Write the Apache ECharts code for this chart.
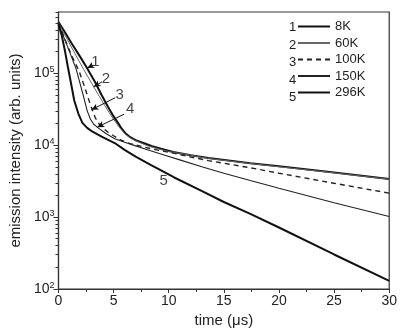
<!DOCTYPE html>
<html><head><meta charset="utf-8">
<script src="https://cdn.jsdelivr.net/npm/echarts@6/dist/echarts.min.js"></script>
<style>html,body{margin:0;padding:0;background:#fff}#c{width:400px;height:334px}</style>
</head><body><div id="c"></div>
<script>
// ---- data (time in µs, intensity in arb. units) ----
const seriesNames = ['8K', '60K', '100K', '150K', '296K'];
const seriesNums = ['1', '2', '3', '4', '5'];

const t8K   = [0, 0.6, 1.3, 2.0, 2.6, 3.3, 3.9, 4.5, 5.0, 5.4, 5.7, 6.1, 6.5, 7.0, 7.7, 8.5, 9.3, 10.4, 12, 13.6, 17.4, 20, 25, 30];
const v8K   = [516000, 367000, 245000, 166000, 117000, 75900, 50100, 33900, 25100, 20400, 17200, 14500, 12900, 11700, 10700, 9660, 8910, 8040, 7240, 6610, 5620, 5070, 4170, 3390];

const t60K  = [0, 0.8, 1.5, 2.3, 3.2, 3.7, 4.2, 4.6, 5.0, 5.5, 6.0, 6.5, 7.0, 8.0, 9.0, 10, 12, 13.6, 17.4, 20, 25, 30];
const v60K  = [501000, 295000, 186000, 112000, 64600, 47900, 35500, 28200, 22900, 17800, 14500, 12600, 11500, 9890, 8910, 8130, 7240, 6530, 5560, 5010, 4120, 3350];

const t100K = [0, 0.85, 1.3, 1.87, 2.3, 2.6, 2.9, 3.34, 3.7, 4.05, 4.5, 5.0, 5.7, 6.5, 7.7, 9, 10.4, 12, 13.6, 17.4, 20, 25, 30];
const v100K = [501000, 234000, 162000, 107000, 69200, 50100, 36300, 24000, 19500, 17200, 15100, 13500, 11700, 10500, 9460, 8510, 7760, 6840, 6100, 4840, 4070, 2950, 2150];

const t150K = [0, 0.8, 1.6, 2.2, 2.6, 2.9, 3.2, 3.6, 4.3, 5.1, 6.0, 7.0, 8.0, 9.5, 11, 13.0, 15, 17.4, 20, 25, 30];
const v150K = [479000, 240000, 115000, 52500, 30200, 22900, 19500, 17400, 14500, 12300, 11000, 9770, 8710, 7330, 6240, 5010, 4070, 3220, 2510, 1580, 1020];

const t296K = [0, 0.3, 0.6, 0.85, 1.15, 1.43, 1.8, 2.17, 2.6, 3.05, 4.0, 5.1, 6.0, 7.0, 8.36, 10.5, 12.75, 15, 17.4, 20, 25, 30];
const v296K = [479000, 331000, 200000, 123000, 70800, 41700, 27500, 20400, 17400, 15500, 12900, 10700, 8610, 6920, 5320, 3550, 2400, 1620, 1110, 716, 302, 130];

const xTicks = [0, 5, 10, 15, 20, 25, 30];
const yMajorTicks = [100, 1000, 10000, 100000];
const yMinorTicks = [200,300,400,500,600,700,800,900, 2000,3000,4000,5000,6000,7000,8000,9000,
  20000,30000,40000,50000,60000,70000,80000,90000, 200000,300000,400000,500000,600000,700000];

// curve labels (text position in data space) and leader lines (from curve point to label)
const labelT = [3.35, 4.3, 5.55, 6.5, 9.55];
const labelV = [144000, 83000, 50000, 31600, 3160];
const leaderFromT = [2.61, 3.19, 2.99, 3.52];
const leaderFromV = [118000, 64600, 31000, 17800];
const leaderToT   = [3.15, 3.95, 5.15, 5.95];
const leaderToV   = [130000, 75900, 45700, 26900];

// ---- chart ----
const timeArr = [t8K, t60K, t100K, t150K, t296K];
const valArr = [v8K, v60K, v100K, v150K, v296K];
const styles = [
  {width: 2.0, color: '#111', type: 'solid'},
  {width: 1.0, color: '#666', type: 'solid'},
  {width: 1.4, color: '#222', type: [5, 4]},
  {width: 1.1, color: '#222', type: 'solid'},
  {width: 2.0, color: '#111', type: 'solid'}
];
const FONT = 'Liberation Sans, Arial, sans-serif';

const series = seriesNames.map((n, i) => ({
  name: n, type: 'line', symbol: 'none', smooth: false,
  lineStyle: styles[i], itemStyle: {color: styles[i].color},
  data: timeArr[i].map((t, k) => [t, valArr[i][k]]),
  z: 3
}));

series.push({
  name: 'leaders', type: 'line', data: [], silent: true,
  markLine: {
    silent: true, symbol: ['arrow', 'none'], symbolSize: [5, 7],
    label: {show: false},
    lineStyle: {color: '#111', width: 1, type: 'solid'},
    data: leaderFromT.map((t, i) => [
      {coord: [t, leaderFromV[i]]}, {coord: [leaderToT[i], leaderToV[i]]}
    ])
  }
});
series.push({
  name: 'labels', type: 'scatter', symbolSize: 0, silent: true,
  data: labelT.map((t, i) => ({value: [t, labelV[i]], name: seriesNums[i]})),
  label: {show: true, position: 'inside', formatter: p => p.name,
    fontFamily: FONT, fontSize: 15, color: '#111'}
});

const chart = echarts.init(document.getElementById('c'), null, {renderer: 'canvas'});
chart.setOption({
  animation: false,
  backgroundColor: '#fff',
  grid: {left: 52, right: 7, top: 12, bottom: 45, show: true, borderColor: '#333', borderWidth: 1.2},
  legend: {
    data: seriesNames, orient: 'vertical', left: 297, top: 20, padding: 0,
    itemStyle: {opacity: 0},
    itemWidth: 32, itemHeight: 14, itemGap: 3.5,
    textStyle: {fontFamily: FONT, fontSize: 13, color: '#222'},
    selectedMode: false
  },
  graphic: seriesNums.map((s, i) => ({
    type: 'text', left: 289, top: 21 + i * 17.5,
    style: {text: s, font: '13px ' + FONT, fill: '#222'}
  })),
  xAxis: {
    type: 'value', min: 0, max: 30, interval: 5,
    name: 'time (\u03bcs)', nameLocation: 'middle', nameGap: 22,
    nameTextStyle: {fontFamily: FONT, fontSize: 15, color: '#222'},
    axisLine: {lineStyle: {color: '#333', width: 1.2}},
    axisTick: {show: true, length: 4, lineStyle: {color: '#333'}, customValues: xTicks},
    minorTick: {show: true, splitNumber: 2, length: 3, lineStyle: {color: '#333'}},
    axisLabel: {fontFamily: FONT, fontSize: 14, color: '#222', margin: 5, customValues: xTicks},
    splitLine: {show: false}
  },
  yAxis: [{
    type: 'log', logBase: 10, min: 100, max: 709600,
    name: 'emission intensity (arb. units)', nameLocation: 'middle', nameGap: 31,
    nameTextStyle: {fontFamily: FONT, fontSize: 15, color: '#222'},
    axisLine: {show: true, lineStyle: {color: '#333', width: 1.2}},
    axisTick: {show: true, length: 5, lineStyle: {color: '#333'}, customValues: yMajorTicks},
    axisLabel: {
      customValues: yMajorTicks, margin: 4,
      formatter: v => '{b|10}{s|' + Math.round(Math.log10(v)) + '}',
      rich: {
        b: {fontFamily: FONT, fontSize: 14, color: '#222'},
        s: {fontFamily: FONT, fontSize: 9, color: '#222', verticalAlign: 'top', padding: [0, 0, 7, 0]}
      }
    },
    splitLine: {show: false}
  }, {
    type: 'log', logBase: 10, min: 100, max: 709600, position: 'left',
    axisLine: {show: false},
    axisTick: {show: true, length: 3, lineStyle: {color: '#333'}, customValues: yMinorTicks},
    axisLabel: {show: false},
    splitLine: {show: false}
  }],
  series: series
});
</script>
</body></html>
